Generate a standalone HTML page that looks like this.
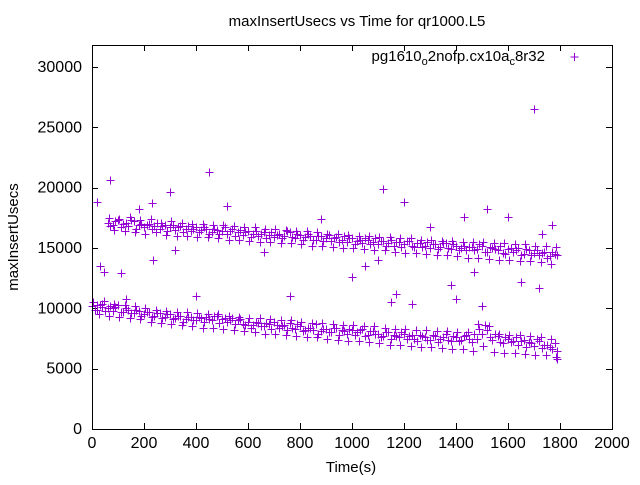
<!DOCTYPE html>
<html><head><meta charset="utf-8"><style>
body{margin:0;background:#fff;}
svg text{font-family:"Liberation Sans",sans-serif;font-size:16px;fill:#000;}
</style></head><body>
<svg id="chart" width="640" height="480" viewBox="0 0 640 480">
<rect width="640" height="480" fill="#fff"/>
<text x="357" y="26" text-anchor="middle" style="font-size:15px">maxInsertUsecs vs Time for qr1000.L5</text>
<text transform="translate(18,237) rotate(-90)" text-anchor="middle" style="font-size:15px">maxInsertUsecs</text>
<text x="351" y="472" text-anchor="middle" style="font-size:15px">Time(s)</text>
<g id="axes"></g>
<g id="points"></g>
<text x="545" y="61" text-anchor="end" style="font-size:15px">pg1610<tspan dy="4" style="font-size:11px">o</tspan><tspan dy="-4">2nofp.cx10a</tspan><tspan dy="4" style="font-size:11px">c</tspan><tspan dy="-4">8r32</tspan></text>
<path d="M570.5 57h8M574.5 53v8" stroke="#9400d3" stroke-width="1"/>
<rect x="92.5" y="45.5" width="520" height="384" fill="none" stroke="#000"/>
</svg>
<script>
const xTicks=[0,200,400,600,800,1000,1200,1400,1600,1800,2000];
const yTicks=[0,5000,10000,15000,20000,25000,30000];
const upperT=[];for(let t=60;t<=1780;t+=20)upperT.push(t);
const upperA=[17100,16900,17300,17000,16800,17200,16900,16700,17000,16800,16600,16900,16700,16500,16800,16600,16400,16700,16500,16600,16300,16500,16400,16200,16600,16300,16100,16400,16200,16000,16300,16100,15900,16200,16000,16300,15800,16100,15900,16000,15700,16000,15800,15600,15900,15700,15500,15800,15600,15400,15700,15500,15300,15600,15400,15200,15500,15300,15600,15100,15400,15200,15000,15300,15100,15400,14900,15200,15000,14800,15100,14900,15200,14700,15000,14800,14600,14900,14700,15000,14500,14800,14600,14400,14700,14300,14500];
const upperB=[16800,17200,16700,17100,17300,16600,17000,16900,16600,17100,16800,16400,16900,16700,16300,16800,16600,16300,16700,16200,16600,16200,16700,16400,16000,16500,16300,15900,16400,16200,15800,16300,16100,15800,16400,15900,16200,15700,16200,15700,16000,15600,16100,15800,15500,16000,15800,15300,15700,15800,15300,15800,15600,15200,15700,15500,15100,15600,15200,15400,15100,15500,15300,14900,15400,15000,15300,14800,15200,15100,14800,15300,14700,15100,14900,15200,14500,15000,14800,14400,14900,14400,14800,14600,14200,14700,14400];
const upperC=[17500,16500,17400,16400,17600,16300,17300,16200,17400,16300,17100,16100,17200,16000,17100,16000,17000,15900,17000,15900,16900,15800,16900,15700,16800,15700,16700,15600,16700,15500,16600,15500,16600,15400,16500,15400,16400,15300,16400,15200,16300,15200,16200,15100,16200,15000,16100,15000,16000,14900,16000,14800,15900,14800,15900,14700,15800,14600,15800,14600,15700,14500,15700,14400,15600,14400,15600,14300,15500,14200,15500,14200,15500,14100,15400,14000,15400,14000,15300,13900,15300,13900,15200,13800,15200,13700,15100];
const lowerT=[];for(let t=0;t<=1780;t+=20)lowerT.push(t);
const lowerA=[10200,9900,10100,10000,9800,10300,9700,9900,9600,9800,9500,9700,9400,9600,9300,9500,9200,9400,9100,9300,9000,9200,9300,9000,9400,9100,8900,9200,9000,8700,8900,8600,8800,8500,8700,8900,8400,8600,8800,8300,8500,8200,8400,8700,8100,8300,8000,8400,8200,7900,8200,8000,8300,7800,8100,7900,7700,8000,7800,7600,7900,7700,7500,7800,7600,7400,7700,7500,7900,7300,7600,7400,7800,7200,7500,7900,8200,7400,7700,7100,7500,7300,7000,7400,7200,6900,7300,7000,6800,7100];
const lowerB=[9900,10300,9800,10200,10100,9700,10000,9600,9900,9400,9700,9300,9600,9200,9500,9100,9400,8900,9300,9000,9300,8900,9100,9400,8800,9200,9000,8700,9100,8600,8400,8900,8500,8800,8300,8600,8500,8200,8400,8700,8100,8400,8200,7900,8300,8000,8400,7800,8100,8300,7800,8200,7700,8100,7900,7600,8000,7500,7700,8000,7500,7800,7300,7700,7400,7800,7200,7600,7400,7700,7300,7700,7500,7900,8300,8600,7600,7900,7200,7600,7200,7600,7300,6800,7100,7500,6700,7000,6600,6500];
const lowerC=[10500,9500,10600,9400,10400,9300,10300,9200,10200,9100,10000,8900,9900,8800,9800,8700,9700,8600,9700,8500,9600,8400,9500,8400,9500,8300,9400,8200,9300,8100,9200,8000,9200,7900,9100,7900,9000,7800,9000,7700,8900,7600,8800,7600,8800,7500,8700,7400,8600,7300,8600,7300,8500,7200,8500,7100,8400,7000,8300,7000,8300,6900,8200,6800,8200,6800,8100,6700,8100,6600,8000,6600,8000,6500,8700,6900,8500,6400,7900,6300,7800,6300,7800,6200,7700,6100,7600,6100,7500,6000];
const outT=[20,30,45,70,110,130,180,230,235,300,320,450,400,520,660,760,880,1000,1050,1100,1120,1150,1170,1200,1230,1300,1380,1400,1430,1470,1520,1500,1600,1650,1700,1720,1730,1770,1790,20,40,80,90];
const outV=[18800,13500,13000,20600,12900,10800,18200,18700,14000,19600,14800,21300,11000,18500,14700,11000,17400,12600,13500,14000,19900,10500,11200,18800,10400,16700,11900,10800,17600,13000,18200,10200,17600,12200,26500,11700,16200,16900,5800,10300,10400,10000,10100];
const L=92,R=612,T=45,B=429;
function xs(v){return L+(v-0)/(2000)*(R-L);}
function ys(v){return B-(v/30000)*(B-67);}
const NS="http://www.w3.org/2000/svg";
const axes=document.getElementById('axes');
xTicks.forEach(t=>{
  const x=Math.round(xs(t))+0.5;
  const p=document.createElementNS(NS,'path');
  p.setAttribute('d',`M${x} ${B}v-6M${x} ${T}v6`);p.setAttribute('stroke','#000');
  
  
  axes.appendChild(p);
  const tx=document.createElementNS(NS,'text');
  tx.setAttribute('x',xs(t));tx.setAttribute('y',448);tx.setAttribute('text-anchor','middle');
  tx.textContent=t;
  
  
  axes.appendChild(tx);
});
yTicks.forEach(t=>{
  const y=Math.round(ys(t))+0.5;
  const p=document.createElementNS(NS,'path');
  p.setAttribute('d',`M${L} ${y}h6M${R} ${y}h-6`);p.setAttribute('stroke','#000');
  
  
  axes.appendChild(p);
  const tx=document.createElementNS(NS,'text');
  tx.setAttribute('x',82);tx.setAttribute('y',ys(t)+5);tx.setAttribute('text-anchor','end');
  tx.textContent=t;
  
  
  axes.appendChild(tx);
});
const pts=document.getElementById('points');
function plus(t,v){
  const x=Math.round(xs(t))+0.5,y=Math.round(ys(v))+0.5;
  const p=document.createElementNS(NS,'path');
  p.setAttribute('d',`M${x-4} ${y}h8M${x} ${y-4}v8`);
  p.setAttribute('stroke','#9400d3');
  
  
  pts.appendChild(p);
}
upperT.forEach((t,i)=>{plus(t,upperA[i]);plus(t+10,upperB[i]);plus(t+5,upperC[i]);});
lowerT.forEach((t,i)=>{plus(t,lowerA[i]);plus(t+10,lowerB[i]);plus(t+5,lowerC[i]);});
outT.forEach((t,i)=>plus(t,outV[i]));
</script>
</body></html>
